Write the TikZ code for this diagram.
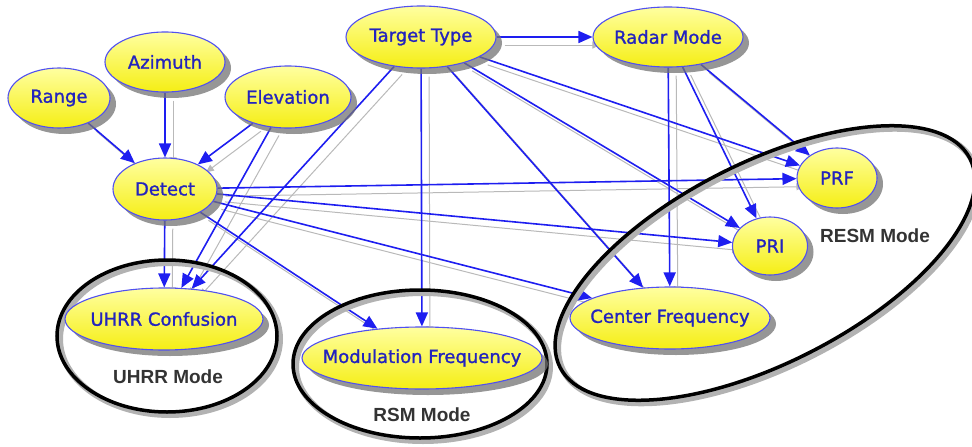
\documentclass[tikz,border=0pt]{standalone}
\usepackage{fontspec}
\usetikzlibrary{shapes.geometric,arrows.meta,shadows}
\newfontfamily\nodefont[FakeBold=1.2]{DejaVu Sans}
\newfontfamily\grpfont{Liberation Sans Bold}
\definecolor{edgeblue}{RGB}{30,30,240}
\definecolor{borderblue}{RGB}{80,80,240}
\definecolor{textblue}{RGB}{35,35,190}
\definecolor{ytop}{RGB}{255,255,160}
\definecolor{ybot}{RGB}{245,238,20}
\definecolor{edgeshadow}{RGB}{185,185,185}
\pgfdeclarelayer{bg}
\pgfsetlayers{bg,main}
\begin{document}
\begin{tikzpicture}[x=1pt,y=-1pt,
  var/.style={ellipse, draw=borderblue, line width=1.1pt, top color=ytop, bottom color=ybot,
    inner xsep=-30pt, inner ysep=0pt, text=textblue, font=\nodefont\fontsize{18}{21}\selectfont,
    drop shadow={shadow xshift=6pt, shadow yshift=-6pt, fill=black!55, opacity=0.75}},
  link/.style={draw=edgeblue, line width=1.6pt, -{Triangle[length=14pt,width=12pt]}},
  linkshadow/.style={draw=edgeshadow, line width=1pt, -{Triangle[length=8pt,width=7pt]}},
  grp/.style={draw=black, line width=3.5pt},
  grpshadow/.style={draw=black!30, line width=6pt},
  grplabel/.style={font=\grpfont\fontsize{19}{22}\selectfont, text=black!80}
]
\useasboundingbox (0,0) rectangle (972,447);

% variables
\node[var, minimum width=102pt, minimum height=60pt] (range) at (59,98) {Range};
\node[var, minimum width=120pt, minimum height=60pt] (azimuth) at (165,62) {Azimuth};
\node[var, minimum width=126pt, minimum height=62pt] (elevation) at (288,97) {Elevation};
\node[var, minimum width=104pt, minimum height=62pt] (detect) at (165,189) {Detect};
\node[var, minimum width=150pt, minimum height=62pt] (target) at (421,37) {Target Type};
\node[var, minimum width=150pt, minimum height=60pt] (radar) at (668,37) {Radar Mode};
\node[var, minimum width=80pt, minimum height=60pt] (prf) at (837,178) {PRF};
\node[var, minimum width=75pt, minimum height=58pt] (pri) at (770,246) {PRI};
\node[var, minimum width=200pt, minimum height=62pt] (cf) at (670,318) {Center Frequency};
\node[var, minimum width=198pt, minimum height=62pt] (uhrr) at (164,319) {UHRR Confusion};
\node[var, minimum width=240pt, minimum height=62pt] (mod) at (422,358) {Modulation Frequency};

% group labels
\node[grplabel] (uhrrlbl) at (168,377) {UHRR Mode};
\node[grplabel] (rsmlbl) at (422,415) {RSM Mode};
\node[grplabel] (resmlbl) at (875,236) {RESM Mode};

\def\edgelist{range/detect, azimuth/detect, elevation/detect, detect/uhrr, elevation/uhrr,
  target/uhrr, detect/mod, target/mod, detect/cf, detect/pri, detect/prf, target/radar,
  target/cf, target/pri, target/prf, radar/cf, radar/pri, radar/prf}

\begin{pgfonlayer}{bg}
  \begin{scope}[transform canvas={shift={(8pt,-8pt)}}]
    \foreach \a/\b in \edgelist { \draw[linkshadow] (\a) -- (\b); }
  \end{scope}
  \foreach \a/\b in \edgelist { \draw[link] (\a) -- (\b); }
  % group ellipses
  \draw[grpshadow] (170,339) ellipse [x radius=110pt, y radius=76pt];
  \draw[grp] (167,336) ellipse [x radius=110pt, y radius=76pt];
  \draw[grpshadow] (423,367) ellipse [x radius=127pt, y radius=74pt];
  \draw[grp] (420,364) ellipse [x radius=127pt, y radius=74pt];
  \draw[grpshadow, rotate around={27:(768,266)}] (768,266) ellipse [x radius=230pt, y radius=100pt];
  \draw[grp, rotate around={27:(765,263)}] (765,263) ellipse [x radius=230pt, y radius=100pt];
\end{pgfonlayer}
\end{tikzpicture}
\end{document}
